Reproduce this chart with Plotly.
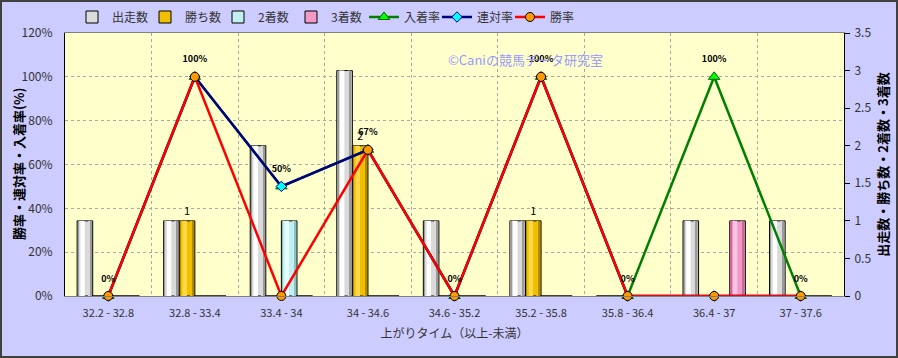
import plotly.graph_objects as go

categories = ["32.2 - 32.8", "32.8 - 33.4", "33.4 - 34", "34 - 34.6", "34.6 - 35.2",
              "35.2 - 35.8", "35.8 - 36.4", "36.4 - 37", "37 - 37.6"]
starts = [1, 1, 2, 3, 1, 1, 0, 1, 1]
wins = [0, 1, 0, 2, 0, 1, 0, 0, 0]
seconds = [0, 0, 1, 0, 0, 0, 0, 0, 0]
thirds = [0, 0, 0, 0, 0, 0, 0, 1, 0]
win_rate = [0, 100, 0, 66.7, 0, 100, 0, 0, 0]
rentai_rate = [0, 100, 50, 66.7, 0, 100, 0, 0, 0]
place_rate = [0, 100, 50, 66.7, 0, 100, 0, 100, 0]

W, H = 898, 358
ML, MR, MT, MB = 65, 54, 33, 62
PW, PH = W - ML - MR, H - MT - MB
FONT = "Noto Sans CJK JP"

fig = go.Figure()

BW = 0.18
# name, values, (mid, edge, highlight), offset
bar_specs = [
    ("出走数", starts, ("#DADADA", "#9A9A9A", "#FFFFFF"), -0.36),
    ("勝ち数", wins, ("#F0C000", "#B08A00", "#FFD84A"), -0.18),
    ("2着数", seconds, ("#C2F0F0", "#88C4C4", "#E6FFFF"), 0.0),
    ("3着数", thirds, ("#F29AC6", "#C8689A", "#FFC4E2"), 0.18),
]
for name, vals, (mid, edge, hi), off in bar_specs:
    txt = [str(v) if v else "" for v in vals] if name == "勝ち数" else None
    fig.add_trace(go.Bar(
        x=categories, y=vals, name=name, yaxis="y", legendgroup=name,
        offset=off, width=BW,
        marker=dict(color=mid, line=dict(color="#000000", width=1)),
        text=txt, textposition="outside", cliponaxis=False,
        textfont=dict(family=FONT, size=11, color="#000000"),
    ))
    # shading layers to imitate the cylinder gradient
    for o, w, c in [(off + 0.012, 0.014, edge), (off + 0.026, 0.012, mid),
                    (off + 0.038, 0.05, hi), (off + 0.125, 0.025, mid),
                    (off + 0.15, 0.018, edge)]:
        fig.add_trace(go.Bar(
            x=categories, y=vals, yaxis="y", legendgroup=name, showlegend=False,
            offset=o, width=w, hoverinfo="skip",
            marker=dict(color=c, line=dict(width=0)),
        ))

fig.add_trace(go.Scatter(
    x=categories, y=place_rate, name="入着率", yaxis="y2", mode="lines+markers",
    line=dict(color="#008000", width=2.5),
    marker=dict(symbol="triangle-up", size=10, color="#00FF00", line=dict(color="#006400", width=1)),
    cliponaxis=False,
))
fig.add_trace(go.Scatter(
    x=categories, y=rentai_rate, name="連対率", yaxis="y2", mode="lines+markers",
    line=dict(color="#000080", width=2.5),
    marker=dict(symbol="diamond", size=8, color="#00FFFF", line=dict(color="#000080", width=1)),
    cliponaxis=False,
))
fig.add_trace(go.Scatter(
    x=categories, y=win_rate, name="勝率", yaxis="y2", mode="lines+markers",
    line=dict(color="#FF0000", width=2.5),
    marker=dict(symbol="circle", size=9, color="#FF9900", line=dict(color="#000000", width=1)),
    cliponaxis=False,
))
fig.add_trace(go.Scatter(
    x=categories, y=place_rate, yaxis="y2", mode="markers+text", showlegend=False,
    text=[f"{v:.0f}%" for v in place_rate], textposition="top center",
    marker=dict(size=18, opacity=0), hoverinfo="skip", cliponaxis=False,
    textfont=dict(family=FONT, size=9, color="#000000", weight="bold"),
))

fig.update_layout(
    width=W, height=H,
    margin=dict(l=ML, r=MR, t=MT, b=MB, pad=0, autoexpand=False),
    paper_bgcolor="#CCCCFF", plot_bgcolor="#FFFFCC",
    barmode="overlay",
    font=dict(family=FONT, size=11, color="#333333"),
    showlegend=True,
    legend=dict(orientation="h", xref="container", yref="container",
                x=72 / W, xanchor="left",
                y=1 - 17 / H, yanchor="middle",
                bgcolor="rgba(0,0,0,0)", font=dict(size=12, color="#333333"),
                itemwidth=30, entrywidth=28, entrywidthmode="pixels",
                traceorder="normal", tracegroupgap=0),
    xaxis=dict(type="category", tickson="boundaries", range=[-0.5, 8.5], automargin=False,
               showgrid=True, gridcolor="#A8A8A8", griddash="dot", gridwidth=1,
               showline=True, linecolor="#808080", mirror=True, ticks="",
               ticklabelstandoff=7,
               tickfont=dict(size=11, color="#333333"),
               title=dict(text="上がりタイム（以上-未満）", font=dict(size=12, color="#333333"), standoff=10)),
    yaxis=dict(side="right", range=[0, 3.5], dtick=0.5, showgrid=False, zeroline=False, automargin=False,
               showline=True, linecolor="#000000", ticks="outside", ticklen=5, tickcolor="#000000",
               ticklabelstandoff=2,
               tickfont=dict(size=12, color="#333333"),
               title=dict(text="出走数・勝ち数・2着数・3着数", font=dict(size=13, color="#000000", weight="bold"), standoff=8)),
    yaxis2=dict(overlaying="y", side="left", range=[0, 120], dtick=20, ticksuffix="%", automargin=False,
                showgrid=True, gridcolor="#A8A8A8", griddash="dot", zeroline=False,
                showline=True, linecolor="#000000", ticks="", ticklabelstandoff=9,
                tickfont=dict(size=12, color="#333333")),
    annotations=[
        dict(text="©Caniの競馬データ研究室", xref="paper", yref="paper",
             x=(525 - ML) / PW, y=(H - MB - 48) / PH, showarrow=False,
             font=dict(family=FONT, size=13, color="#9999FF")),
        dict(text="勝率・連対率・入着率(%)", xref="paper", yref="paper",
             x=(18 - ML) / PW, y=(H - MB - 164) / PH, showarrow=False, textangle=-90,
             xanchor="center", yanchor="middle",
             font=dict(family=FONT, size=13, color="#000000", weight="bold")),
    ],
    shapes=[dict(type="rect", xref="paper", yref="paper",
                 x0=-(ML - 1) / PW, x1=1 + (MR - 1) / PW,
                 y0=-(MB - 1) / PH, y1=1 + (MT - 1) / PH,
                 line=dict(color="#404040", width=2), fillcolor="rgba(0,0,0,0)", layer="above")],
)

fig.write_html("out.html", config={"displayModeBar": False},
               post_script="document.body.style.margin='0';document.body.style.overflow='hidden';")
